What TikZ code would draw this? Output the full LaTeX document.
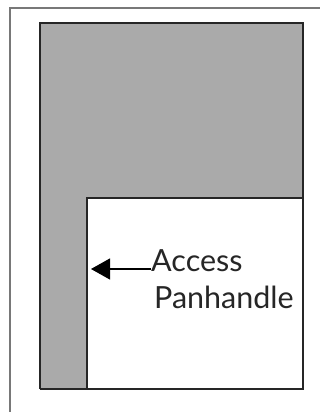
\documentclass[tikz,border=0pt]{standalone}
\usepackage{fontspec}
\setmainfont{Lato}
\usetikzlibrary{arrows.meta}
\definecolor{lotgray}{RGB}{170,170,170}
\definecolor{framegray}{RGB}{120,120,120}
\tikzset{
  lbl/.style={anchor=base west, inner sep=0pt, font=\fontsize{30.5}{36}\selectfont, text=black!85},
  border/.style={draw=black!85, line width=2.4pt},
  pointer/.style={draw=black, line width=1.2pt, -{Triangle[length=19pt,width=21pt]}}
}
\begin{document}
\begin{tikzpicture}[x=1pt,y=-1pt]
\useasboundingbox (0,0) rectangle (320,412);
\fill[white] (0,0) rectangle (320,412);
% outer thin frame
\draw[framegray, line width=1.2pt] (10,412) -- (10,8) -- (320,8);
% shaded lot
\fill[lotgray] (40,23) rectangle (303,389);
\fill[white] (87,198) rectangle (303,389);
\draw[border] (40,389) -- (40,23) -- (303,23) -- (303,389) -- (40,389);
\draw[border] (87,389) -- (87,198) -- (303,198);
% labels
\node[lbl] (acc) at (151,271) {Access};
\node[lbl] (pan) at (154,308) {Panhandle};
\coordinate (tip) at (91,269);
\draw[pointer] ([yshift=2pt]acc.base west) -- (tip);
\end{tikzpicture}
\end{document}
